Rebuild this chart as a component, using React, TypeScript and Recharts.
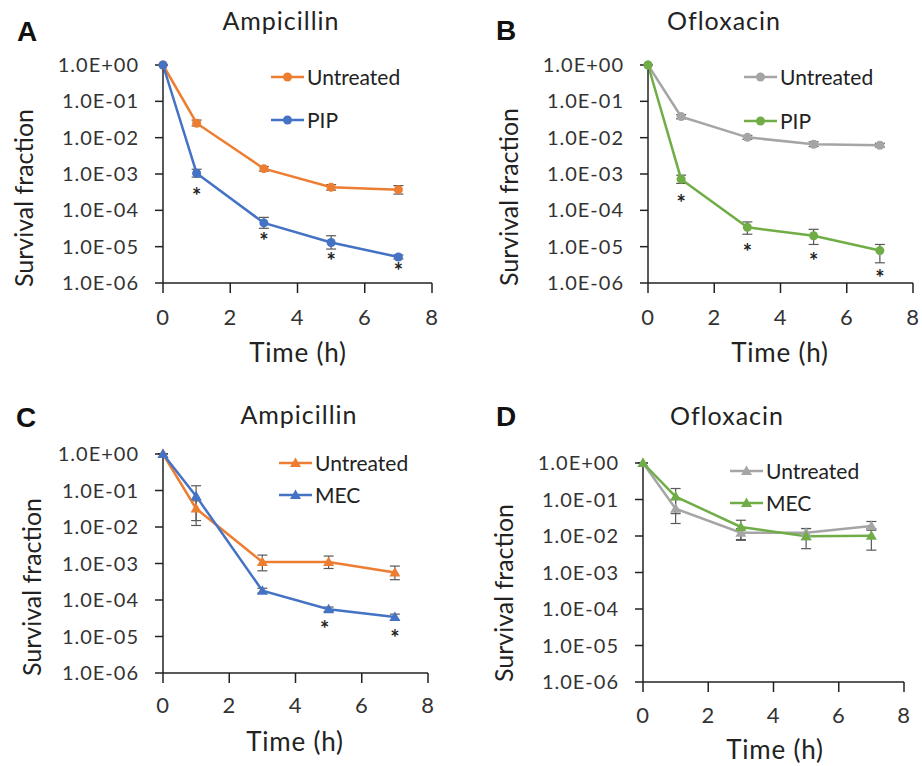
import React from 'react';
import { LineChart, Line, XAxis, YAxis, ErrorBar } from 'recharts';

// ---------- shared axis data ----------
const timePoints = [0, 1, 3, 5, 7];
const xTicks = [0, 2, 4, 6, 8];
const yTicks = [1, 1e-1, 1e-2, 1e-3, 1e-4, 1e-5, 1e-6];
const yTickLabels = ['1.0E+00', '1.0E-01', '1.0E-02', '1.0E-03', '1.0E-04', '1.0E-05', '1.0E-06'];

// ---------- Panel A: Ampicillin, PIP ----------
const aUntreated = [1, 0.025, 1.4e-3, 4.3e-4, 3.7e-4];
const aUntreatedLow = [1, 0.021, 1.2e-3, 3.6e-4, 2.8e-4];
const aUntreatedHigh = [1, 0.0305, 1.6e-3, 5.1e-4, 4.8e-4];
const aPIP = [1, 1.05e-3, 4.5e-5, 1.3e-5, 5.2e-6];
const aPIPLow = [1, 8.2e-4, 3.2e-5, 8.6e-6, 4.6e-6];
const aPIPHigh = [1, 1.35e-3, 6.4e-5, 2.0e-5, 5.9e-6];
const aStarTimes = [1, 3, 5, 7];
const aStarValues = [3.1e-4, 1.8e-5, 5.1e-6, 2.8e-6];

// ---------- Panel B: Ofloxacin, PIP ----------
const bUntreated = [1, 0.038, 0.0102, 0.0066, 0.0062];
const bUntreatedLow = [1, 0.033, 0.009, 0.0057, 0.0055];
const bUntreatedHigh = [1, 0.043, 0.0115, 0.0077, 0.007];
const bPIP = [1, 7.2e-4, 3.4e-5, 2.0e-5, 7.8e-6];
const bPIPLow = [1, 5.5e-4, 2.2e-5, 1.15e-5, 3.6e-6];
const bPIPHigh = [1, 9.3e-4, 4.8e-5, 3.0e-5, 1.15e-5];
const bStarTimes = [1, 3, 5, 7];
const bStarValues = [2.0e-4, 9.0e-6, 5.3e-6, 1.8e-6];

// ---------- Panel C: Ampicillin, MEC ----------
const cUntreated = [1, 0.032, 1.1e-3, 1.1e-3, 5.7e-4];
const cUntreatedLow = [1, 0.011, 6.3e-4, 7.3e-4, 3.6e-4];
const cUntreatedHigh = [1, 0.052, 1.7e-3, 1.6e-3, 8.5e-4];
const cMEC = [1, 0.07, 1.8e-4, 5.6e-5, 3.4e-5];
const cMECLow = [1, 0.015, 1.55e-4, 4.9e-5, 2.8e-5];
const cMECHigh = [1, 0.135, 2.1e-4, 6.4e-5, 4.1e-5];
const cStarTimes = [4.88, 7];
const cStarValues = [2.1e-5, 1.15e-5];

// ---------- Panel D: Ofloxacin, MEC ----------
const dUntreated = [1, 0.056, 0.0123, 0.0123, 0.0187];
const dUntreatedLow = [1, 0.022, 0.008, 0.008, 0.0144];
const dUntreatedHigh = [1, 0.1, 0.016, 0.016, 0.025];
const dMEC = [1, 0.12, 0.0177, 0.0099, 0.0101];
const dMECLow = [1, 0.041, 0.0076, 0.0045, 0.0041];
const dMECHigh = [1, 0.2, 0.027, 0.016, 0.016];

const ORANGE = '#ED7D31';
const BLUE = '#4472C4';
const GRAY = '#A5A5A5';
const GREEN = '#70AD47';
const FONT = 'Lato, "Open Sans", sans-serif';

const rows = (vals: number[], low: number[], high: number[]) =>
  timePoints.map((t, i) => ({ t, v: vals[i], err: [vals[i] - low[i], high[i] - vals[i]] }));
const starRows = (ts: number[], vs: number[]) => ts.map((t, i) => ({ t, v: vs[i] }));

const fmtY = (v: number) => {
  const idx = yTicks.findIndex((k) => Math.abs(Math.log10(k) - Math.log10(v)) < 1e-6);
  return idx >= 0 ? yTickLabels[idx] : '';
};

type Series = { name: string; color: string; data: any[] };
type Cfg = {
  left: number; top: number; width: number; height: number;
  x0: number; x1: number; y0: number; y1: number;
  xTickMargin: number;
  marker: 'circle' | 'triangle';
  series: Series[];
  stars: any[];
};

const makeDot = (marker: 'circle' | 'triangle', color: string) => (p: any) => {
  const { cx, cy, index } = p;
  if (cx == null || cy == null) return <g key={`d${index}`} />;
  if (marker === 'circle') return <circle key={`d${index}`} cx={cx} cy={cy} r={4.5} fill={color} />;
  return <path key={`d${index}`} d={`M${cx},${cy - 5.5} L${cx + 5.5},${cy + 4} L${cx - 5.5},${cy + 4} Z`} fill={color} />;
};

const starDot = (p: any) => {
  const { cx, cy, index } = p;
  if (cx == null || cy == null) return <g key={`s${index}`} />;
  return (
    <text key={`s${index}`} x={cx} y={cy + 12} textAnchor="middle" fontSize={22} fontWeight="bold" fill="#222" fontFamily={FONT}>
      *
    </text>
  );
};

function Panel({ cfg }: { cfg: Cfg }) {
  const { left, top, width, height, x0, x1, y0, y1 } = cfg;
  return (
    <div style={{ position: 'absolute', left, top }}>
      <LineChart width={width} height={height} margin={{ top: y0, right: width - x1, bottom: 0, left: 0 }}>
        <XAxis
          type="number"
          dataKey="t"
          domain={[0, 8]}
          ticks={xTicks}
          interval={0}
          height={height - y1}
          tickSize={10}
          tickMargin={cfg.xTickMargin}
          tick={{ fontSize: 22, fill: '#333', fontFamily: FONT, letterSpacing: 0.5 }}
          axisLine={{ stroke: '#222', strokeWidth: 1.5 }}
          tickLine={{ stroke: '#222', strokeWidth: 1.5 }}
        />
        <YAxis
          type="number"
          dataKey="v"
          scale="log"
          domain={[1e-6, 1]}
          ticks={yTicks}
          interval={0}
          width={x0}
          tickSize={8}
          tickMargin={16}
          tickFormatter={fmtY}
          tick={{ fontSize: 20, fill: '#333', fontFamily: FONT, letterSpacing: 1 }}
          axisLine={{ stroke: '#222', strokeWidth: 1.5 }}
          tickLine={{ stroke: '#222', strokeWidth: 1.5 }}
        />
        {cfg.series.map((s) => (
          <Line
            key={s.name}
            data={s.data}
            dataKey="v"
            name={s.name}
            stroke={s.color}
            strokeWidth={2.5}
            dot={makeDot(cfg.marker, s.color)}
            activeDot={false}
            isAnimationActive={false}
          >
            <ErrorBar dataKey="err" direction="y" width={5} stroke="#595959" strokeWidth={1.2} />
          </Line>
        ))}
        {cfg.stars.length > 0 && (
          <Line
            data={cfg.stars}
            dataKey="v"
            name="sig"
            stroke="none"
            dot={starDot}
            activeDot={false}
            legendType="none"
            isAnimationActive={false}
          />
        )}
      </LineChart>
    </div>
  );
}

const panels: Cfg[] = [
  {
    left: 0, top: 0, width: 460, height: 380, x0: 163, x1: 432, y0: 65, y1: 283, xTickMargin: 16, marker: 'circle',
    series: [
      { name: 'Untreated', color: ORANGE, data: rows(aUntreated, aUntreatedLow, aUntreatedHigh) },
      { name: 'PIP', color: BLUE, data: rows(aPIP, aPIPLow, aPIPHigh) },
    ],
    stars: starRows(aStarTimes, aStarValues),
  },
  {
    left: 460, top: 0, width: 462, height: 380, x0: 188, x1: 453, y0: 65, y1: 283, xTickMargin: 16, marker: 'circle',
    series: [
      { name: 'Untreated', color: GRAY, data: rows(bUntreated, bUntreatedLow, bUntreatedHigh) },
      { name: 'PIP', color: GREEN, data: rows(bPIP, bPIPLow, bPIPHigh) },
    ],
    stars: starRows(bStarTimes, bStarValues),
  },
  {
    left: 0, top: 380, width: 460, height: 386, x0: 163, x1: 428, y0: 74, y1: 293, xTickMargin: 14, marker: 'triangle',
    series: [
      { name: 'Untreated', color: ORANGE, data: rows(cUntreated, cUntreatedLow, cUntreatedHigh) },
      { name: 'MEC', color: BLUE, data: rows(cMEC, cMECLow, cMECHigh) },
    ],
    stars: starRows(cStarTimes, cStarValues),
  },
  {
    left: 460, top: 380, width: 462, height: 386, x0: 183, x1: 444, y0: 83, y1: 302, xTickMargin: 15, marker: 'triangle',
    series: [
      { name: 'Untreated', color: GRAY, data: rows(dUntreated, dUntreatedLow, dUntreatedHigh) },
      { name: 'MEC', color: GREEN, data: rows(dMEC, dMECLow, dMECHigh) },
    ],
    stars: [],
  },
];

// overlay text (page coordinates)
const letters = [
  { t: 'A', x: 17, y: 41 },
  { t: 'B', x: 496, y: 40 },
  { t: 'C', x: 16, y: 427 },
  { t: 'D', x: 496, y: 426 },
];
const titles = [
  { t: 'Ampicillin', x: 281, y: 30 },
  { t: 'Ofloxacin', x: 724, y: 30 },
  { t: 'Ampicillin', x: 299, y: 424 },
  { t: 'Ofloxacin', x: 727, y: 425 },
];
const yLabels = [
  { x: 33, y: 198 },
  { x: 518, y: 197 },
  { x: 41, y: 587 },
  { x: 513, y: 593 },
];
const xLabels = [
  { x: 298, y: 362 },
  { x: 780, y: 362 },
  { x: 295, y: 751 },
  { x: 775, y: 759 },
];
const legendPos = [
  { x: 271, ys: [77, 120] },
  { x: 744, ys: [77, 121] },
  { x: 279, ys: [463, 495] },
  { x: 730, ys: [471, 503] },
];

const LegendMarker = ({ marker, x, y, color }: any) =>
  marker === 'circle' ? (
    <circle cx={x} cy={y} r={4.5} fill={color} />
  ) : (
    <path d={`M${x},${y - 5.5} L${x + 5.5},${y + 4} L${x - 5.5},${y + 4} Z`} fill={color} />
  );

export default function App() {
  return (
    <div style={{ position: 'absolute', left: 0, top: 0, width: 922, height: 766, background: '#fff', fontFamily: FONT }}>
      {panels.map((p, i) => (
        <Panel key={i} cfg={p} />
      ))}
      <svg width={922} height={766} style={{ position: 'absolute', left: 0, top: 0, pointerEvents: 'none' }}>
        {letters.map((l) => (
          <text key={l.t} x={l.x} y={l.y} fontSize={28} fontWeight="bold" fontFamily="'Liberation Sans', Arial, sans-serif" fill="#111">
            {l.t}
          </text>
        ))}
        {titles.map((t, i) => (
          <text key={i} x={t.x} y={t.y} textAnchor="middle" fontSize={25} letterSpacing={1} fontFamily={FONT} fill="#222">
            {t.t}
          </text>
        ))}
        {yLabels.map((l, i) => (
          <text key={i} transform={`translate(${l.x},${l.y}) rotate(-90)`} textAnchor="middle" fontSize={25} fontFamily={FONT} fill="#222">
            Survival fraction
          </text>
        ))}
        {xLabels.map((l, i) => (
          <text key={i} x={l.x} y={l.y} textAnchor="middle" fontSize={26} letterSpacing={0.8} fontFamily={FONT} fill="#222">
            Time (h)
          </text>
        ))}
        {panels.map((p, i) =>
          p.series.map((s, j) => {
            const lp = legendPos[i];
            const y = lp.ys[j];
            return (
              <g key={`${i}-${j}`}>
                <line x1={lp.x} y1={y} x2={lp.x + 33} y2={y} stroke={s.color} strokeWidth={2.5} />
                <LegendMarker marker={p.marker} x={lp.x + 16.5} y={y} color={s.color} />
                <text x={lp.x + 36} y={y + 7.5} fontSize={21} fontFamily={FONT} fill="#222">
                  {s.name}
                </text>
              </g>
            );
          })
        )}
      </svg>
    </div>
  );
}
